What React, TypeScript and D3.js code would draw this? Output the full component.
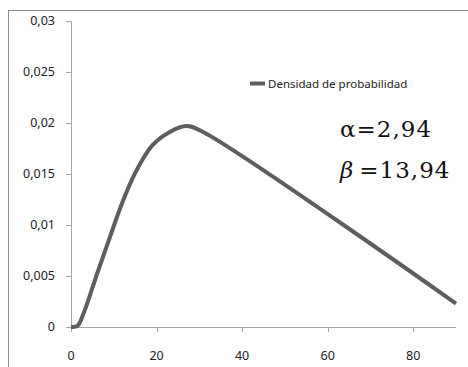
import React from "react";
import * as d3 from "d3";

const xValues = [0, 1.5, 3, 6, 9, 12, 15, 19, 23, 27, 31, 90];
const yValues = [0, 0.0001, 0.0014, 0.0051, 0.0087, 0.0122, 0.0151, 0.0178, 0.0191, 0.0197, 0.0191, 0.0023];
const yTicks = [0, 0.005, 0.01, 0.015, 0.02, 0.025, 0.03];
const xTicks = [0, 20, 40, 60, 80];
const seriesName = "Densidad de probabilidad";
const alphaText = "α=2,94";
const betaValue = "=13,94";

const W = 468;
const H = 367;
const font = "'Noto Sans', 'Open Sans', sans-serif";

export default function App() {
  const x = d3.scaleLinear().domain([0, 90]).range([71, 456]);
  const y = d3.scaleLinear().domain([0, 0.03]).range([327, 21]);
  const data = xValues.map((v, i) => [v, yValues[i]] as [number, number]);
  const line = d3
    .line<[number, number]>()
    .x((d) => x(d[0]))
    .y((d) => y(d[1]))
    .curve(d3.curveCatmullRom.alpha(0.5));
  const fmt = (v: number) => String(v).replace(".", ",");
  const axisColor = "#a6a6a6";
  return (
    <svg
      width={W}
      height={H}
      style={{ position: "absolute", left: 0, top: 0, display: "block" }}
    >
      <rect x={0} y={0} width={W} height={H} fill="#fff" />
      <rect x={8.5} y={10.5} width={W + 20} height={H + 20} fill="#fff" stroke="#8c8c8c" strokeWidth={1} />
      {/* y axis */}
      <line x1={71.5} x2={71.5} y1={y(0.03)} y2={y(0)} stroke={axisColor} />
      {yTicks.map((t) => (
        <g key={t}>
          <line x1={66} x2={71.5} y1={Math.round(y(t)) + 0.5} y2={Math.round(y(t)) + 0.5} stroke={axisColor} />
          <text
            x={55}
            y={y(t)}
            dy="0.35em"
            textAnchor="end"
            fontFamily={font}
            fontSize={12.5}
            fill="#222"
          >
            {fmt(t)}
          </text>
        </g>
      ))}
      {/* x axis */}
      <line x1={71} x2={456} y1={327.5} y2={327.5} stroke={axisColor} />
      {xTicks.map((t) => (
        <g key={t}>
          <line x1={Math.round(x(t)) + 0.5} x2={Math.round(x(t)) + 0.5} y1={327.5} y2={332} stroke={axisColor} />
          <text x={x(t)} y={360} textAnchor="middle" fontFamily={font} fontSize={12.5} fill="#222">
            {t}
          </text>
        </g>
      ))}
      <path d={line(data) || ""} fill="none" stroke="#5e5e5e" strokeWidth={4} strokeLinejoin="round" strokeLinecap="butt" />
      {/* legend */}
      <line x1={250} x2={265} y1={83.5} y2={83.5} stroke="#5e5e5e" strokeWidth={4} />
      <text x={268} y={87.5} fontFamily={font} fontSize={11.5} fill="#222">
        {seriesName}
      </text>
      <text x={340} y={137} fontFamily="'DejaVu Serif', 'Liberation Serif', serif" fontSize={23} letterSpacing={1} fill="#111">
        {alphaText}
      </text>
      <text x={340} y={178} fontFamily="'DejaVu Serif', 'Liberation Serif', serif" fontSize={23} letterSpacing={1} fill="#111">
        <tspan fontStyle="italic">β</tspan>
        <tspan dx={5}>{betaValue}</tspan>
      </text>
    </svg>
  );
}
